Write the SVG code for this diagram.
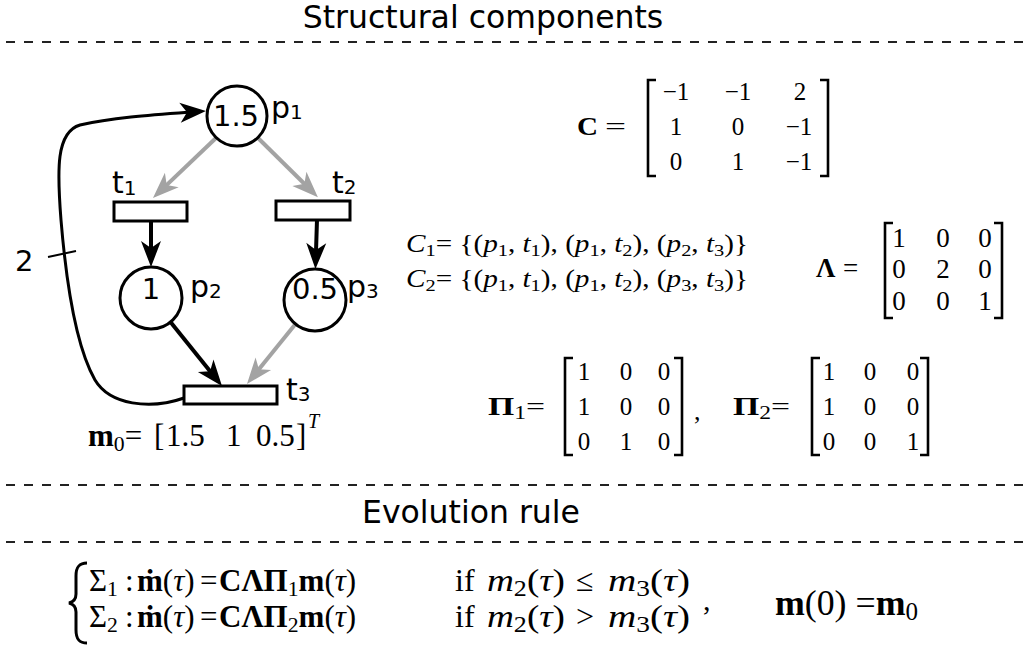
<svg xmlns="http://www.w3.org/2000/svg" width="1023" height="649" viewBox="0 0 1023 649">
<style>
.sans{font-family:"DejaVu Sans","Liberation Sans",sans-serif;fill:#000}
.m{font-family:"Liberation Serif","DejaVu Serif",serif;fill:#000}
.b{font-weight:bold}
.i{font-style:italic}
.s{font-size:0.7em}
.dash{stroke:#222;stroke-width:2;stroke-dasharray:9 9;fill:none}
.node{fill:#fff;stroke:#000;stroke-width:3}
.blk{stroke:#000;stroke-width:4;fill:none}
.gry{stroke:#a3a3a3;stroke-width:4;fill:none}
.brk{stroke:#000;stroke-width:2.6;fill:none}
.cell{text-anchor:middle}
</style>
<defs>
<marker id="ahB" markerUnits="userSpaceOnUse" markerWidth="32" markerHeight="32" viewBox="-10 -12 32 24" refX="0" refY="0" orient="auto">
<path d="M18,0 L-8,-10 L-1,0 L-8,10 Z" fill="#000"/>
</marker>
<marker id="ahG" markerUnits="userSpaceOnUse" markerWidth="32" markerHeight="32" viewBox="-10 -12 32 24" refX="0" refY="0" orient="auto">
<path d="M18,0 L-8,-10 L-1,0 L-8,10 Z" fill="#a3a3a3"/>
</marker>
</defs>
<rect width="1023" height="649" fill="#fff"/>

<g id="headers">
<text class="sans" x="483" y="28" font-size="31.5" text-anchor="middle">Structural components</text>
<line class="dash" x1="6" y1="42" x2="1023" y2="42"/>
<line class="dash" x1="6" y1="485" x2="1023" y2="485"/>
<text class="sans" x="471" y="523" font-size="31.5" text-anchor="middle">Evolution rule</text>
<line class="dash" x1="6" y1="542" x2="1023" y2="542"/>
</g>

<g id="connectors">
<line class="gry" x1="216" y1="138" x2="166" y2="185.6" marker-end="url(#ahG)"/>
<line class="gry" x1="258" y1="138" x2="305.1" y2="184.5" marker-end="url(#ahG)"/>
<line class="blk" x1="151" y1="221" x2="151" y2="249" marker-end="url(#ahB)"/>
<line class="blk" x1="317" y1="220" x2="316" y2="251" marker-end="url(#ahB)"/>
<line class="blk" x1="170.5" y1="322" x2="210.7" y2="372" marker-end="url(#ahB)"/>
<line class="gry" x1="295.5" y1="324" x2="258.3" y2="370" marker-end="url(#ahG)"/>
<path d="M184,398 C150,410 110,405 95,380 C75,345 66,280 61,220 C57,170 56,132 80,125 C110,118 150,115 188,112.2" stroke="#000" stroke-width="3" fill="none" marker-end="url(#ahB)"/>
<line x1="48" y1="257" x2="76" y2="251" stroke="#000" stroke-width="2"/>
<text class="sans" x="15" y="271" font-size="29">2</text>
</g>

<g id="p1">
<circle class="node" cx="237" cy="116" r="30"/>
<text class="sans" x="236" y="126" font-size="29" text-anchor="middle">1.5</text>
<text class="sans" x="271" y="118" font-size="30">p<tspan font-size="20" dy="1">1</tspan></text>
</g>
<g id="p2">
<circle class="node" cx="151" cy="298" r="31"/>
<text class="sans" x="151" y="299" font-size="29" text-anchor="middle">1</text>
<text class="sans" x="190" y="297" font-size="30">p<tspan font-size="20" dy="1">2</tspan></text>
</g>
<g id="p3">
<circle class="node" cx="315" cy="300" r="31"/>
<text class="sans" x="315" y="299" font-size="29" text-anchor="middle">0.5</text>
<text class="sans" x="347" y="297" font-size="30">p<tspan font-size="20" dy="1">3</tspan></text>
</g>
<g id="t1">
<rect class="node" x="114" y="202" width="73" height="19"/>
<text class="sans" x="112" y="193" font-size="30">t<tspan font-size="20" dy="2">1</tspan></text>
</g>
<g id="t2">
<rect class="node" x="276" y="201" width="74" height="19"/>
<text class="sans" x="332" y="193" font-size="30">t<tspan font-size="20" dy="1">2</tspan></text>
</g>
<g id="t3">
<rect class="node" x="184" y="386" width="93" height="18"/>
<text class="sans" x="286" y="400" font-size="30">t<tspan font-size="20" dy="1">3</tspan></text>
</g>

<g id="m0">
<text class="m" y="446" font-size="31"><tspan x="88" class="b">m</tspan><tspan class="s" dy="5">0</tspan><tspan dy="-5">=</tspan><tspan x="154">[</tspan><tspan x="166">1.5</tspan><tspan x="226">1</tspan><tspan x="256">0.5</tspan><tspan x="296">]</tspan><tspan class="i" font-size="20" dy="-18" x="308">T</tspan></text>
</g>

<g id="matrixC">
<text class="m b" x="577" y="135" font-size="26" textLength="21" lengthAdjust="spacingAndGlyphs">C</text>
<text class="m" x="605" y="135" font-size="26" textLength="21" lengthAdjust="spacingAndGlyphs">=</text>
<path class="brk" d="M656,80 H648 V176 H656"/>
<path class="brk" d="M820,80 H828 V176 H820"/>
<g class="m cell" font-size="25">
<text x="676" y="100">−1</text><text x="738" y="100">−1</text><text x="800" y="100">2</text>
<text x="676" y="135">1</text><text x="738" y="135">0</text><text x="799" y="135">−1</text>
<text x="676" y="170">0</text><text x="738" y="170">1</text><text x="799" y="170">−1</text>
</g>
</g>

<g id="sets">
<text class="m" x="406" y="252" font-size="25" textLength="342" lengthAdjust="spacingAndGlyphs"><tspan class="i">C</tspan><tspan class="s" dy="4">1</tspan><tspan dy="-4">= {(</tspan><tspan class="i">p</tspan><tspan class="s" dy="4">1</tspan><tspan dy="-4">, </tspan><tspan class="i">t</tspan><tspan class="s" dy="4">1</tspan><tspan dy="-4">), (</tspan><tspan class="i">p</tspan><tspan class="s" dy="4">1</tspan><tspan dy="-4">, </tspan><tspan class="i">t</tspan><tspan class="s" dy="4">2</tspan><tspan dy="-4">), (</tspan><tspan class="i">p</tspan><tspan class="s" dy="4">2</tspan><tspan dy="-4">, </tspan><tspan class="i">t</tspan><tspan class="s" dy="4">3</tspan><tspan dy="-4">)}</tspan></text>
<text class="m" x="406" y="287" font-size="25" textLength="342" lengthAdjust="spacingAndGlyphs"><tspan class="i">C</tspan><tspan class="s" dy="4">2</tspan><tspan dy="-4">= {(</tspan><tspan class="i">p</tspan><tspan class="s" dy="4">1</tspan><tspan dy="-4">, </tspan><tspan class="i">t</tspan><tspan class="s" dy="4">1</tspan><tspan dy="-4">), (</tspan><tspan class="i">p</tspan><tspan class="s" dy="4">1</tspan><tspan dy="-4">, </tspan><tspan class="i">t</tspan><tspan class="s" dy="4">2</tspan><tspan dy="-4">), (</tspan><tspan class="i">p</tspan><tspan class="s" dy="4">3</tspan><tspan dy="-4">, </tspan><tspan class="i">t</tspan><tspan class="s" dy="4">3</tspan><tspan dy="-4">)}</tspan></text>
</g>

<g id="matrixLambda">
<text class="m b" x="816" y="277" font-size="27">Λ</text>
<text class="m" x="843" y="277" font-size="27">=</text>
<path class="brk" d="M893,223 H885 V318 H893"/>
<path class="brk" d="M994,223 H1002 V318 H994"/>
<g class="m cell" font-size="27">
<text x="899" y="247">1</text><text x="943" y="247">0</text><text x="985" y="247">0</text>
<text x="899" y="278">0</text><text x="943" y="278">2</text><text x="985" y="278">0</text>
<text x="899" y="310">0</text><text x="943" y="310">0</text><text x="985" y="310">1</text>
</g>
</g>

<g id="matrixPi1">
<text class="m" x="488" y="415" font-size="26" textLength="57" lengthAdjust="spacingAndGlyphs"><tspan class="b">Π</tspan><tspan class="s" dy="4">1</tspan><tspan dy="-4">=</tspan></text>
<path class="brk" d="M573,358 H565 V455 H573"/>
<path class="brk" d="M674,358 H682 V455 H674"/>
<g class="m cell" font-size="25">
<text x="584" y="380">1</text><text x="626" y="380">0</text><text x="664" y="380">0</text>
<text x="584" y="415">1</text><text x="626" y="415">0</text><text x="664" y="415">0</text>
<text x="584" y="450">0</text><text x="626" y="450">1</text><text x="664" y="450">0</text>
</g>
<text class="m" x="694" y="420" font-size="26">,</text>
</g>

<g id="matrixPi2">
<text class="m" x="733" y="415" font-size="26" textLength="57" lengthAdjust="spacingAndGlyphs"><tspan class="b">Π</tspan><tspan class="s" dy="4">2</tspan><tspan dy="-4">=</tspan></text>
<path class="brk" d="M820,358 H812 V455 H820"/>
<path class="brk" d="M920,358 H928 V455 H920"/>
<g class="m cell" font-size="25">
<text x="829" y="380">1</text><text x="870" y="380">0</text><text x="913" y="380">0</text>
<text x="829" y="415">1</text><text x="870" y="415">0</text><text x="913" y="415">0</text>
<text x="829" y="450">0</text><text x="870" y="450">0</text><text x="913" y="450">1</text>
</g>
</g>

<g id="evolution">
<path d="M87,563 C79,563 76,567 76,576 L76,594 C76,599 73,602 69,603 C73,604 76,607 76,612 L76,630 C76,639 79,643 87,643" stroke="#000" stroke-width="3" fill="none"/>
<g class="m" font-size="32">
<text y="591" font-size="31"><tspan x="89">Σ</tspan><tspan class="s" dy="5">1</tspan><tspan x="125" dy="-5">:</tspan><tspan x="137" class="b">ṁ</tspan>(<tspan class="i">τ</tspan>)<tspan x="200">=</tspan><tspan x="219" class="b">CΛΠ</tspan><tspan class="s" dy="5">1</tspan><tspan class="b" dy="-5">m</tspan>(<tspan class="i">τ</tspan>)</text>
<text x="455" y="591">if</text>
<text x="487" y="591" textLength="78" lengthAdjust="spacingAndGlyphs"><tspan class="i">m</tspan><tspan class="s" dy="5">2</tspan><tspan dy="-5">(</tspan><tspan class="i">τ</tspan>)</text>
<text x="576" y="591">≤</text>
<text x="608" y="591" textLength="82" lengthAdjust="spacingAndGlyphs"><tspan class="i">m</tspan><tspan class="s" dy="5">3</tspan><tspan dy="-5">(</tspan><tspan class="i">τ</tspan>)</text>

<text y="627" font-size="31"><tspan x="89">Σ</tspan><tspan class="s" dy="5">2</tspan><tspan x="125" dy="-5">:</tspan><tspan x="137" class="b">ṁ</tspan>(<tspan class="i">τ</tspan>)<tspan x="200">=</tspan><tspan x="219" class="b">CΛΠ</tspan><tspan class="s" dy="5">2</tspan><tspan class="b" dy="-5">m</tspan>(<tspan class="i">τ</tspan>)</text>
<text x="455" y="627">if</text>
<text x="487" y="627" textLength="78" lengthAdjust="spacingAndGlyphs"><tspan class="i">m</tspan><tspan class="s" dy="5">2</tspan><tspan dy="-5">(</tspan><tspan class="i">τ</tspan>)</text>
<text x="576" y="627">&gt;</text>
<text x="608" y="627" textLength="82" lengthAdjust="spacingAndGlyphs"><tspan class="i">m</tspan><tspan class="s" dy="5">3</tspan><tspan dy="-5">(</tspan><tspan class="i">τ</tspan>)</text>

<text x="703" y="610" font-size="30">,</text>
<text x="775" y="615" font-size="35" textLength="143" lengthAdjust="spacingAndGlyphs"><tspan class="b">m</tspan>(0) =<tspan class="b">m</tspan><tspan class="s" dy="5">0</tspan></text>
</g>
</g>
</svg>
